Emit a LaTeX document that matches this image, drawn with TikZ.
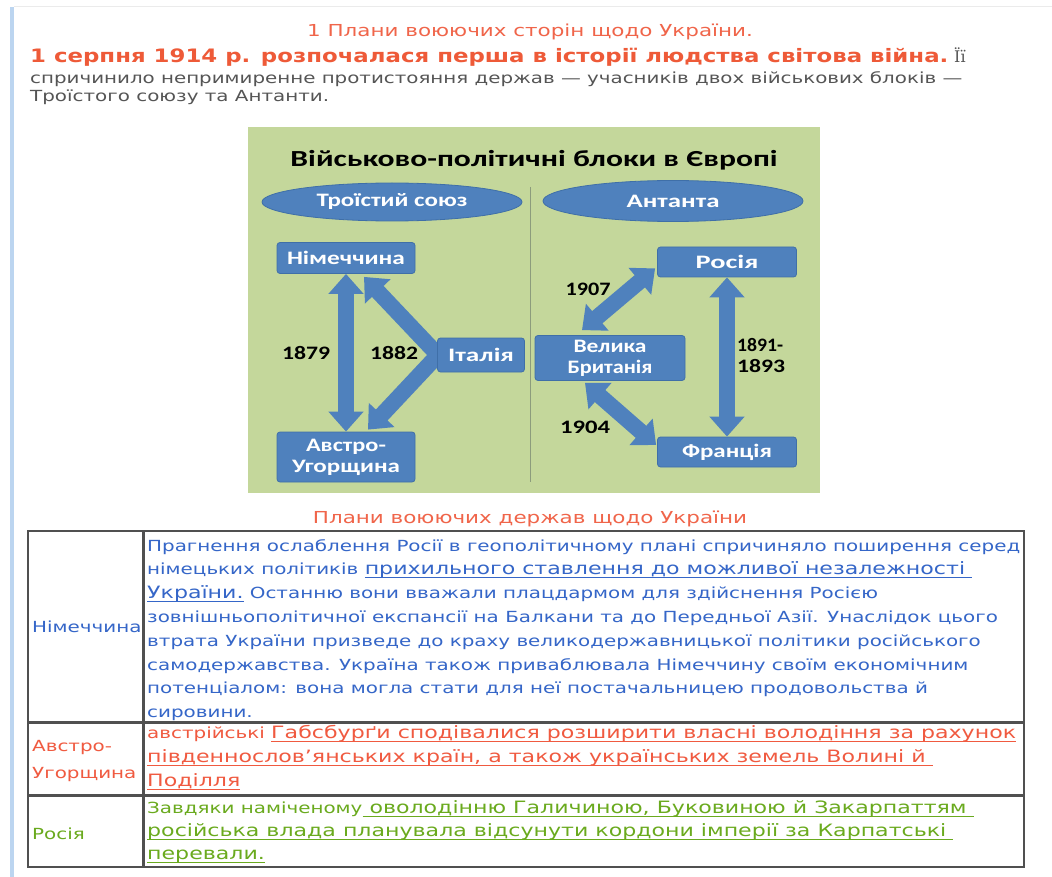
\documentclass[tikz,border=0pt]{standalone}
\usepackage{fontspec}
\usepackage{graphicx}
\usetikzlibrary{arrows.meta,shapes.geometric,calc}
\setmainfont[FakeStretch=1.3]{DejaVu Sans}
\newfontfamily\dgfont{Carlito}
\newfontfamily\serfont{DejaVu Serif}
\newcommand{\fw}[2]{\resizebox{#1pt}{\height}{#2}}
\newcommand{\smtx}{\fontsize{15.3}{18}\selectfont}
\newcommand{\bigtx}{\fontsize{17}{20}\selectfont}
\newcommand{\dgb}{\dgfont\bfseries\fontsize{19}{20}\selectfont}
\newsavebox{\ulnbox}
\newcommand{\uln}[1]{\sbox{\ulnbox}{#1}\rlap{\rule[-3.4pt]{\wd\ulnbox}{0.9pt}}\usebox{\ulnbox}}
\definecolor{salmon}{HTML}{F0654A}
\definecolor{hdred}{HTML}{EE5A38}
\definecolor{txgray}{HTML}{555555}
\definecolor{dgreen}{HTML}{C4D79B}
\definecolor{ablue}{HTML}{4F81BD}
\definecolor{bborder}{HTML}{3F6FA8}
\definecolor{tblue}{HTML}{3566C8}
\definecolor{tred}{HTML}{F05A40}
\definecolor{tgreen}{HTML}{6AAA1E}
\definecolor{barblue}{HTML}{BCD5F0}
\definecolor{tborder}{HTML}{505050}
\definecolor{divider}{HTML}{8C9C7C}
\begin{document}
\begin{tikzpicture}[x=1pt,y=-1pt,
  every node/.style={inner sep=0pt},
  tl/.style={anchor=base west},
  box/.style={draw=bborder, fill=ablue, rounded corners=3pt, line width=0.8pt,
    text=white, font=\dgb, align=center},
  oval/.style={ellipse, draw=bborder, fill=ablue, line width=0.8pt,
    text=white, font=\dgb},
  barr/.style={draw=ablue, line width=16pt, line join=miter,
    arrows={Triangle[length=20pt,width=34pt]-Triangle[length=20pt,width=34pt]}},
  year/.style={font=\dgb, text=black},
  rowtx/.style={tl, font=\smtx}]
\useasboundingbox (0,0) rectangle (1052,877);
\fill[white] (0,0) rectangle (1052,877);
\fill[barblue] (10,7) rectangle (14,877);
\draw[black!8, line width=1pt] (14,7) -- (1052,7);

% header
\node[anchor=base, text=salmon, font=\fontsize{16.5}{19}\selectfont] (h1) at (530,37) {1 Плани воюючих сторін щодо України.};
\node[tl, text=hdred, font=\bfseries\fontsize{18.5}{20}\selectfont] (h2) at (30,63) {\fw{918}{1 серпня 1914 р. розпочалася перша в історії людства світова війна.}};
\node[tl, text=txgray, font=\serfont\fontsize{16}{18}\selectfont] (h2b) at (954,63) {Її};
\node[tl, text=txgray, font=\smtx] (h3) at (30,84) {\fw{932}{спричинило непримиренне протистояння держав — учасників двох військових блоків —}};
\node[tl, text=txgray, font=\smtx] (h4) at (30,102) {Троїстого союзу та Антанти.};

% diagram
\fill[dgreen] (248,127) rectangle (820,493);
\draw[divider, line width=0.8pt] (530,187) -- (530,482);
\node[font=\dgfont\bfseries\fontsize{23}{25}\selectfont, text=black] (dtitle) at (534,160) {\fw{487}{Військово-політичні блоки в Європі}};
\node[oval, minimum width=260pt, minimum height=38pt] (tri) at (392,202) {\fw{151}{Троїстий союз}};
\node[oval, minimum width=260pt, minimum height=41pt] (ant) at (673,201) {\fw{93}{Антанта}};

\node[box, minimum width=138pt, minimum height=31pt] (ger) at (346,258) {\fw{118}{Німеччина}};
\node[box, minimum width=138pt, minimum height=50pt] (aus) at (346,457) {\fw{80}{Австро-}\\[1pt]\fw{108}{Угорщина}};
\node[box, minimum width=150pt, minimum height=45pt] (gb) at (610,358) {\fw{73}{Велика}\\[1pt]\fw{85}{Британія}};
\node[box, minimum width=139pt, minimum height=30pt] (ros) at (727,262) {\fw{63}{Росія}};
\node[box, minimum width=139pt, minimum height=30pt] (fra) at (727,452) {\fw{90}{Франція}};

\draw[barr] (ger.south) -- (aus.north);
\draw[barr] ($(ger.south)+(18,3)$) -- (438,355) -- ($(aus.north)+(22,-2)$);
\draw[barr] ($(gb.north)+(-28,-5)$) -- ($(ros.south west)+(-2,-9)$);
\draw[barr] ($(gb.south)+(-25,2)$) -- ($(fra.west)+(-1,-7)$);
\draw[barr] (ros.south) -- (fra.north);

\node[box, minimum width=87pt, minimum height=34pt] (ita) at (481,355) {\fw{66}{Італія}};

\node[year] (y1879) at (306,353) {\fw{48}{1879}};
\node[year] (y1882) at (394,353) {\fw{48}{1882}};
\node[year] (y1907) at (588,289) {\fw{45}{1907}};
\node[year] (y1904) at (585,427) {\fw{50}{1904}};
\node[year, anchor=west, align=left] (y1891) at (737,356) {\fw{46}{1891-}\\[1pt]\fw{48}{1893}};

% table
\node[anchor=base, text=salmon, font=\fontsize{16.5}{19}\selectfont] (tt) at (530,523) {Плани воюючих держав щодо України};
\draw[tborder, line width=2pt] (28,531) rectangle (1024,867);
\draw[tborder, line width=3pt] (143,531) -- (143,867);
\draw[tborder, line width=3pt] (28,722) -- (1024,722);
\draw[tborder, line width=3pt] (28,795) -- (1024,795);

\node[rowtx, text=tblue] (lger) at (32,632) {Німеччина};
\node[rowtx, text=tred] (laus1) at (32,751) {Австро-};
\node[rowtx, text=tred] (laus2) at (32,778) {Угорщина};
\node[rowtx, text=tgreen] (lros) at (32,839) {Росія};

\node[rowtx, text=tblue] (r1a) at (147,551) {Прагнення ослаблення Росії в геополітичному плані спричиняло поширення серед};
\node[rowtx, text=tblue] (r1b) at (147,574.8) {німецьких політиків {\bigtx\uln{прихильного ставлення до можливої незалежності\ }}};
\node[rowtx, text=tblue] (r1c) at (147,598.6) {{\bigtx\uln{України.}} Останню вони вважали плацдармом для здійснення Росією};
\node[rowtx, text=tblue] (r1d) at (147,622.4) {зовнішньополітичної експансії на Балкани та до Передньої Азії. Унаслідок цього};
\node[rowtx, text=tblue] (r1e) at (147,646.2) {втрата України призведе до краху великодержавницької політики російського};
\node[rowtx, text=tblue] (r1f) at (147,670) {самодержавства. Україна також приваблювала Німеччину своїм економічним};
\node[rowtx, text=tblue] (r1g) at (147,693.8) {потенціалом: вона могла стати для неї постачальницею продовольства й};
\node[rowtx, text=tblue] (r1h) at (147,717.6) {сировини.};

\node[rowtx, text=tred] (r2a) at (147,738) {австрійські {\bigtx\uln{Габсбурґи сподівалися розширити власні володіння за рахунок}}};
\node[rowtx, text=tred] (r2b) at (147,762) {{\bigtx\uln{південнослов’янських країн, а також українських земель Волині й\ }}};
\node[rowtx, text=tred] (r2c) at (147,786) {{\bigtx\uln{Поділля}}};

\node[rowtx, text=tgreen] (r3a) at (147,813) {Завдяки наміченому{\bigtx\uln{\ оволодінню Галичиною, Буковиною й Закарпаттям\ }}};
\node[rowtx, text=tgreen] (r3b) at (147,836) {{\bigtx\uln{російська влада планувала відсунути кордони імперії за Карпатські\ }}};
\node[rowtx, text=tgreen] (r3c) at (147,859) {{\bigtx\uln{перевали.}}};
\end{tikzpicture}
\end{document}
